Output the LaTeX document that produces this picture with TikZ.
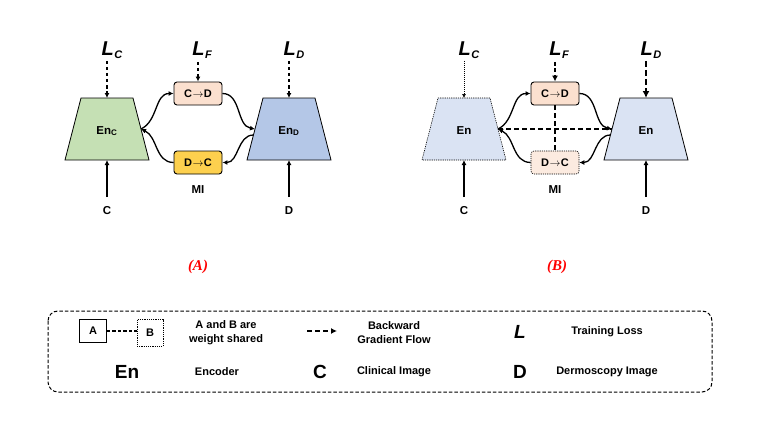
\documentclass[tikz,border=0pt]{standalone}
\usepackage{fontspec}
\setmainfont{Liberation Sans}
\newfontfamily\serifit{Liberation Serif}
\usetikzlibrary{arrows.meta}
\definecolor{encg}{HTML}{C5E0B4}
\definecolor{encb}{HTML}{B4C7E7}
\definecolor{encl}{HTML}{DAE3F3}
\definecolor{peach}{HTML}{FBE0CF}
\definecolor{peachl}{HTML}{FCEBE0}
\definecolor{gold}{HTML}{FDD04E}
\definecolor{capred}{HTML}{FF0000}
\newcommand{\arr}{\kern0.5pt$\rightarrow$\kern0.5pt}
\newcommand{\Lsub}[1]{{\fontsize{20}{22}\selectfont\bfseries\itshape L\kern0.5pt\raisebox{-3pt}{\fontsize{11}{12}\selectfont #1}}}
\tikzset{
  tip/.style={-{Latex[length=5pt,width=5pt]}},
  flow/.style={line width=1.3pt, tip},
  dsh/.style={line width=1.3pt, dash pattern=on 3.5pt off 2.5pt, tip},
  trap/.style={line width=0.8pt},
  box/.style={draw, line width=0.9pt, rounded corners=3pt, minimum width=48pt, minimum height=23pt, inner sep=0pt, font=\bfseries\fontsize{11}{12}\selectfont},
  lbl/.style={font=\bfseries\fontsize{11.5}{13}\selectfont, inner sep=0pt},
  big/.style={font=\bfseries\fontsize{19}{21}\selectfont, inner sep=0pt},
  leg/.style={font=\bfseries\fontsize{11}{14}\selectfont, align=center, inner sep=0pt},
  captxt/.style={font=\serifit\bfseries\itshape\fontsize{15}{17}\selectfont, text=capred, inner sep=0pt}
}
\begin{document}
\begin{tikzpicture}[x=1pt,y=-1pt]
\useasboundingbox (0,0) rectangle (763,436);

% ================= Panel A =================
\draw[trap, fill=encg] (81,98) -- (133,98) -- (149,160) -- (65,160) -- cycle;
\draw[trap, fill=encb] (263,98) -- (315,98) -- (331,160) -- (247,160) -- cycle;
\node[lbl] (encA) at (107,131) {En\textsubscript{C}};
\node[lbl] (endA) at (289,131) {En\textsubscript{D}};
\coordinate (encAr) at (141,129);
\coordinate (encAt) at (107,98);
\coordinate (encAb) at (107,160);
\coordinate (endAl) at (255,129);
\coordinate (endAl2) at (253.5,135);
\coordinate (endAt) at (289,98);
\coordinate (endAb) at (289,160);

\node[box, fill=peach] (cdA) at (198,93.5) {C\arr D};
\node[box, fill=gold] (dcA) at (198,162.5) {D\arr C};
\node[lbl] (miA) at (198,190) {MI};

\node (lcA) at (112,50) {\Lsub{C}};
\node (lfA) at (202,50) {\Lsub{F}};
\node (ldA) at (294,50) {\Lsub{D}};
\coordinate (lcAs) at (107,61);
\coordinate (lfAs) at (198,62);
\coordinate (ldAs) at (289,61);

\node[lbl] (cA) at (107,211) {C};
\node[lbl] (dA) at (289,211) {D};
\coordinate (cAs) at (107,197);
\coordinate (dAs) at (289,197);

\draw[dsh] (lcAs) -- (encAt);
\draw[dsh] (lfAs) -- (cdA.north);
\draw[dsh] (ldAs) -- (endAt);
\draw[flow] (cAs) -- (encAb);
\draw[flow] (dAs) -- (endAb);

\draw[flow] (encAr) to[out=25,in=180] (cdA.west);
\draw[flow] (cdA.east) to[out=0,in=170] (endAl);
\draw[flow] (endAl2) to[out=180,in=0] (dcA.east);
\draw[flow] (dcA.west) to[out=180,in=-25] (encAr);

\node[captxt] (capA) at (198,267) {(A)};

% ================= Panel B =================
\draw[trap, fill=encl, dash pattern=on 1.2pt off 1pt, line width=0.6pt] (438,98) -- (490,98) -- (506,160) -- (422,160) -- cycle;
\draw[trap, fill=encl] (620,98) -- (672,98) -- (688,160) -- (604,160) -- cycle;
\node[lbl] (encB) at (464,131) {En};
\node[lbl] (endB) at (646,131) {En};
\coordinate (encBr) at (498,129);
\coordinate (encBt) at (464,98);
\coordinate (encBb) at (464,160);
\coordinate (endBl) at (612,129);
\coordinate (endBl2) at (610.5,135);
\coordinate (endBt) at (646,98);
\coordinate (endBb) at (646,160);

\node[box, fill=peach] (cdB) at (555,93.5) {C\arr D};
\node[box, fill=peachl, dash pattern=on 1.2pt off 1pt, line width=0.6pt] (dcB) at (555,162.5) {D\arr C};
\node[lbl] (miB) at (555,190) {MI};

\node (lcB) at (469,50) {\Lsub{C}};
\node (lfB) at (559,50) {\Lsub{F}};
\node (ldB) at (651,50) {\Lsub{D}};
\coordinate (lcBs) at (464,61);
\coordinate (lfBs) at (555,62);
\coordinate (ldBs) at (646,61);

\node[lbl] (cB) at (464,211) {C};
\node[lbl] (dB) at (646,211) {D};
\coordinate (cBs) at (464,197);
\coordinate (dBs) at (646,197);

\draw[line width=0.6pt, dash pattern=on 1pt off 1pt, -{Latex[length=4pt,width=4pt]}] (lcBs) -- (encBt);
\draw[line width=1.8pt, dash pattern=on 4pt off 2.5pt, -{Latex[length=6pt,width=6pt]}] (lfBs) -- (cdB.north);
\draw[line width=2.4pt, dash pattern=on 6pt off 3pt, -{Latex[length=7pt,width=7pt]}] (ldBs) -- (endBt);
\draw[flow] (cBs) -- (encBb);
\draw[flow] (dBs) -- (endBb);

\draw[line width=1.5pt, dash pattern=on 5pt off 3pt] (encBr) -- (endBl);
\draw[line width=1.5pt, dash pattern=on 5pt off 3pt] (cdB.south) -- (dcB.north);

\draw[flow] (encBr) to[out=25,in=180] (cdB.west);
\draw[flow] (cdB.east) to[out=0,in=170] (endBl);
\draw[flow] (endBl2) to[out=180,in=0] (dcB.east);
\draw[flow] (dcB.west) to[out=180,in=-25] (encBr);

\node[captxt] (capB) at (557,267) {(B)};

% ================= Legend =================
\draw[line width=1pt, dash pattern=on 3.5pt off 2pt, rounded corners=10pt] (48,311) rectangle (712,392);

\node[draw, line width=0.8pt, minimum width=27pt, minimum height=23pt, inner sep=0pt, font=\bfseries\fontsize{11}{12}\selectfont] (ka) at (93,331) {A};
\node[draw, line width=0.6pt, dash pattern=on 1.2pt off 1pt, minimum width=26pt, minimum height=27pt, inner sep=0pt, font=\bfseries\fontsize{11}{12}\selectfont] (kb) at (150,333) {B};
\draw[line width=1.3pt, dash pattern=on 3.5pt off 2pt] (ka.east) -- (kb.west |- ka.east);
\node[leg] (kshare) at (226,333) {A and B are\\weight shared};

\coordinate (kas) at (307,331);
\coordinate (kae) at (337,331);
\draw[line width=1.6pt, dash pattern=on 5pt off 3pt, -{Latex[length=6pt,width=6pt]}] (kas) -- (kae);
\node[leg] (kflow) at (394,333) {Backward\\Gradient Flow};

\node[font=\bfseries\itshape\fontsize{19}{21}\selectfont, inner sep=0pt] (kl) at (520,332) {L};
\node[leg] (kloss) at (607,332) {Training Loss};

\node[big] (ken) at (127,372) {En};
\node[leg] (kenc) at (217,372) {Encoder};
\node[big] (kc) at (320,372) {C};
\node[leg] (kclin) at (394,372) {Clinical Image};
\node[big] (kd) at (520,372) {D};
\node[leg] (kderm) at (607,372) {Dermoscopy Image};
\end{tikzpicture}
\end{document}
